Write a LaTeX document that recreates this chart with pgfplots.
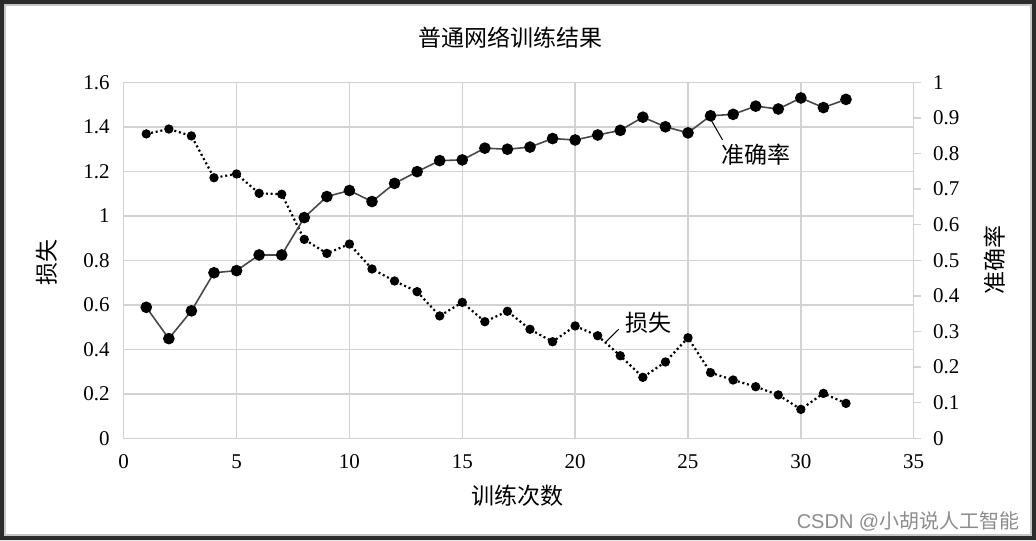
\documentclass[border=0pt]{standalone}
\usepackage{fontspec}
\setmainfont{Liberation Serif}
\newfontfamily\cjk{Noto Sans CJK SC}
\newfontfamily\wm{Liberation Sans}
\usepackage{pgfplots}
\usepackage{pgfplotstable}
\pgfplotsset{compat=1.18}
\usetikzlibrary{calc}
\definecolor{gridc}{HTML}{D2D2D2}
\definecolor{framec}{HTML}{2B2B2B}
\definecolor{accc}{HTML}{484848}

\pgfplotstableread{
x loss
1 1.368
2 1.390
3 1.359
4 1.171
5 1.188
6 1.101
7 1.097
8 0.894
9 0.831
10 0.873
11 0.761
12 0.707
13 0.659
14 0.550
15 0.611
16 0.524
17 0.571
18 0.490
19 0.434
20 0.505
21 0.461
22 0.371
23 0.274
24 0.343
25 0.452
26 0.295
27 0.262
28 0.232
29 0.195
30 0.130
31 0.202
32 0.157
}\losstable

\pgfplotstableread{
x acc
1 0.368
2 0.280
3 0.358
4 0.465
5 0.471
6 0.515
7 0.515
8 0.620
9 0.679
10 0.696
11 0.665
12 0.716
13 0.749
14 0.780
15 0.782
16 0.815
17 0.812
18 0.818
19 0.842
20 0.838
21 0.852
22 0.865
23 0.902
24 0.875
25 0.858
26 0.906
27 0.910
28 0.933
29 0.925
30 0.956
31 0.929
32 0.952
}\acctable

\begin{document}
\begin{tikzpicture}[font=\fontsize{10.5}{12}\selectfont]
\begin{axis}[
  name=main, at={(0,0)}, anchor=south west,
  scale only axis, width=395pt, height=178pt,
  xmin=0, xmax=35, ymin=0, ymax=1.6,
  xtick={0,5,10,15,20,25,30,35},
  ytick={0,0.2,0.4,0.6,0.8,1,1.2,1.4,1.6},
  grid=major,
  major grid style={draw=gridc, line width=0.7pt},
  axis line style={draw=gridc, line width=0.7pt},
  tick style={draw=none},
  /pgf/number format/assume math mode=true,
  ticklabel style={font=\fontsize{10.5}{12}\selectfont},
  yticklabel style={inner sep=0pt, xshift=-6.8pt},
  xticklabel style={inner sep=0pt, yshift=-8pt},
  every axis title shift=0pt,
  title={\cjk\fontsize{11.5}{13}\selectfont 普通网络训练结果},
  title style={at={(axis description cs:0.489,1.125)}, anchor=center, inner sep=0pt},
  xlabel={\cjk\fontsize{11.5}{13}\selectfont 训练次数},
  xlabel style={at={(axis description cs:0.498,-0.16)}, anchor=center, inner sep=0pt},
  ylabel={\cjk\fontsize{11.5}{13}\selectfont 损失},
  ylabel style={at={(axis description cs:-0.097,0.493)}, anchor=center, inner sep=0pt},
  clip=false,
]
\addplot[black, line width=1.1pt, dash pattern=on 1pt off 1.4pt,
  mark=*, mark size=1.75pt, mark options={solid, fill=black, draw=black}]
  table[x=x, y=loss] {\losstable};
\draw[black, line width=0.5pt] (axis cs:26.02,1.431) -- (axis cs:26.53,1.341);
\node[font=\cjk\fontsize{11.5}{13}\selectfont, inner sep=0pt] at (axis cs:28.02,1.273) {准确率};
\draw[black, line width=0.5pt] (axis cs:21.37,0.434) -- (axis cs:21.93,0.490);
\node[font=\cjk\fontsize{11.5}{13}\selectfont, inner sep=0pt] at (axis cs:23.24,0.520) {损失};
\end{axis}
\begin{axis}[
  at={(0,0)}, anchor=south west,
  scale only axis, width=395pt, height=178pt,
  xmin=0, xmax=35, ymin=0, ymax=1,
  axis x line=none,
  axis y line*=right,
  ytick={0,0.1,0.2,0.3,0.4,0.5,0.6,0.7,0.8,0.9,1},
  axis line style={draw=gridc, line width=0.7pt, -},
  tick style={draw=gridc, line width=0.7pt},
  tick align=outside, major tick length=3.5pt,
  /pgf/number format/assume math mode=true,
  ticklabel style={font=\fontsize{10.5}{12}\selectfont},
  yticklabel style={inner sep=0pt, xshift=6pt, anchor=west},
  ylabel={\cjk\fontsize{11.5}{13}\selectfont 准确率},
  ylabel style={at={(axis description cs:1.103,0.501)}, anchor=center, inner sep=0pt, rotate=0},
  clip=false,
]
\addplot[accc, line width=0.8pt, mark=*, mark size=2.5pt,
  mark options={fill=black, draw=black}]
  table[x=x, y=acc] {\acctable};
\end{axis}
\node[font=\wm\fontsize{10}{12}\selectfont, text=black!45, anchor=east, inner sep=0pt]
  at (448pt,-41.4pt) {CSDN @{\cjk 小胡说人工智能}};
\fill[framec, even odd rule]
  (-61.85pt,-50.85pt) rectangle (456.15pt,219.15pt)
  (-59.85pt,-48.85pt) rectangle (454.15pt,217.15pt);
\draw[black!22, line width=1pt]
  (-59.35pt,-48.35pt) rectangle (453.65pt,216.65pt);
\pgfresetboundingbox
\path[use as bounding box] (-61.85pt,-50.85pt) rectangle (456.15pt,219.15pt);
\end{tikzpicture}
\end{document}
